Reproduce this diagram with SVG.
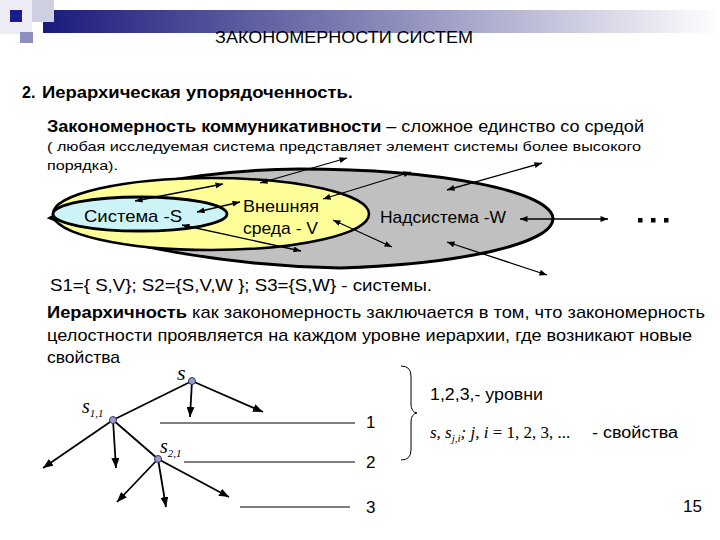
<svg xmlns="http://www.w3.org/2000/svg" width="720" height="540" viewBox="0 0 720 540">
<defs>
<linearGradient id="bar" x1="0" y1="0" x2="1" y2="0">
<stop offset="0" stop-color="#1a1a7c"/>
<stop offset="0.45" stop-color="#7d7db2"/>
<stop offset="1" stop-color="#ffffff"/>
</linearGradient>
<marker id="ah" viewBox="0 0 10 8" refX="10" refY="4" markerWidth="8" markerHeight="6" markerUnits="userSpaceOnUse" orient="auto-start-reverse">
<path d="M0,0 L10,4 L0,8 z" fill="#000"/>
</marker>
<marker id="th" viewBox="0 0 10 8" refX="10" refY="4" markerWidth="10" markerHeight="8" markerUnits="userSpaceOnUse" orient="auto">
<path d="M0,0 L10,4 L0,8 z" fill="#000"/>
</marker>
<style>
.t{font-family:"Liberation Sans",Arial,sans-serif;fill:#000}
.m{font-family:"Liberation Serif","Times New Roman",serif;font-style:italic;fill:#000}
.b{font-weight:bold}
.dbl{stroke:#000;stroke-width:1.3;fill:none;marker-start:url(#ah);marker-end:url(#ah)}
.edge{stroke:#000;stroke-width:1.8;fill:none}
.arr{stroke:#000;stroke-width:1.8;fill:none;marker-end:url(#th)}
.lvl{stroke:#000;stroke-width:1.2}
.node{fill:#9a9acc;stroke:#333366;stroke-width:1}
</style>
</defs>
<rect width="720" height="540" fill="#fff"/>
<g id="header">
<rect x="0" y="0" width="32" height="34" fill="#ececf4"/>
<rect x="43" y="10" width="677" height="23" fill="url(#bar)"/>
<rect x="32" y="0" width="22" height="22" fill="#cfcfe2"/>
<rect x="10" y="10" width="12" height="12" fill="#1a1a8c"/>
<rect x="20" y="32" width="13" height="11" fill="#8f8fbf"/>
<text class="t" x="215" y="43" font-size="17" textLength="258" lengthAdjust="spacingAndGlyphs">ЗАКОНОМЕРНОСТИ СИСТЕМ</text>
</g>
<g id="intro">
<text class="t b" x="22" y="98" font-size="16">2.</text>
<text class="t b" x="42" y="98" font-size="16" textLength="311" lengthAdjust="spacingAndGlyphs">Иерархическая упорядоченность.</text>
<text class="t" x="47" y="132" font-size="17" textLength="597" lengthAdjust="spacingAndGlyphs"><tspan class="b">Закономерность коммуникативности</tspan> – сложное единство со средой</text>
<text class="t" x="47" y="151" font-size="13.5" textLength="594" lengthAdjust="spacingAndGlyphs">( любая исследуемая система  представляет элемент системы более высокого</text>
<text class="t" x="47" y="170" font-size="13.5" textLength="71" lengthAdjust="spacingAndGlyphs">порядка).</text>
</g>
<g id="node-W">
<path d="M50,218 C90,195 180,170 300,169 A253,50 0 0 1 553,219 A253,50 0 0 1 340,268 C230,266 110,245 50,218 Z" fill="#c0c0c0" stroke="#000" stroke-width="3"/>
<text class="t" x="380" y="223" font-size="17" textLength="126" lengthAdjust="spacingAndGlyphs">Надсистема -W</text>
</g>
<g id="node-V">
<ellipse cx="211" cy="214" rx="158" ry="36" fill="#ffff99" stroke="#000" stroke-width="2.5"/>
<text class="t" x="243" y="212" font-size="17" textLength="76" lengthAdjust="spacingAndGlyphs">Внешняя</text>
<text class="t" x="243" y="234" font-size="17" textLength="75" lengthAdjust="spacingAndGlyphs">среда - V</text>
</g>
<g id="node-S">
<ellipse cx="140" cy="214" rx="87" ry="17" fill="#ccf4f6" stroke="#000" stroke-width="2.8"/>
<text class="t" x="84" y="222" font-size="17" textLength="98" lengthAdjust="spacingAndGlyphs">Система -S</text>
</g>
<g id="ellipsis">
<rect x="638" y="218" width="4.5" height="4.5" fill="#000"/>
<rect x="651" y="218" width="4.5" height="4.5" fill="#000"/>
<rect x="664" y="218" width="4.5" height="4.5" fill="#000"/>
</g>
<g id="connectors">
<line class="dbl" x1="135" y1="201" x2="223" y2="184"/>
<line class="dbl" x1="260" y1="183" x2="347" y2="158"/>
<line class="dbl" x1="197" y1="212" x2="240" y2="202"/>
<line class="dbl" x1="182" y1="225" x2="301" y2="251"/>
<line class="dbl" x1="333" y1="220" x2="392" y2="247"/>
<line class="dbl" x1="323" y1="199" x2="411" y2="172"/>
<line class="dbl" x1="447" y1="190" x2="542" y2="163"/>
<line class="dbl" x1="520" y1="219" x2="608" y2="219"/>
<line class="dbl" x1="447" y1="242" x2="547" y2="275"/>
</g>
<g id="systems">
<text class="t" x="50" y="291" font-size="17" textLength="382" lengthAdjust="spacingAndGlyphs">S1={ S,V};  S2={S,V,W };  S3={S,W}  - системы.</text>
</g>
<g id="hierarchy-text">
<text class="t" x="47" y="318" font-size="17" textLength="658" lengthAdjust="spacingAndGlyphs"><tspan class="b">Иерархичность</tspan> как закономерность  заключается в том, что закономерность</text>
<text class="t" x="47" y="341" font-size="17" textLength="645" lengthAdjust="spacingAndGlyphs">целостности проявляется на каждом уровне иерархии, где возникают новые</text>
<text class="t" x="47" y="363" font-size="17" textLength="73" lengthAdjust="spacingAndGlyphs">свойства</text>
</g>
<g id="tree-edges">
<line class="edge" x1="192" y1="381" x2="113" y2="420"/>
<line class="edge" x1="113" y1="420" x2="158" y2="459"/>
<line class="arr" x1="192" y1="381" x2="190" y2="417"/>
<line class="arr" x1="192" y1="381" x2="263" y2="412"/>
<line class="arr" x1="113" y1="420" x2="43" y2="468"/>
<line class="arr" x1="113" y1="420" x2="116" y2="468"/>
<line class="arr" x1="158" y1="459" x2="117" y2="502"/>
<line class="arr" x1="158" y1="459" x2="166" y2="507"/>
<line class="arr" x1="158" y1="459" x2="229" y2="497"/>
</g>
<g id="tree-node-s">
<circle class="node" cx="192" cy="381" r="3.5"/>
<text class="m" x="177" y="380" font-size="22">s</text>
</g>
<g id="tree-node-s11">
<circle class="node" cx="113" cy="420" r="3.5"/>
<text class="m" x="82" y="413" font-size="20">s<tspan font-size="11" dy="4">1,1</tspan></text>
</g>
<g id="tree-node-s21">
<circle class="node" cx="158" cy="459" r="3.5"/>
<text class="m" x="160" y="453" font-size="20">s<tspan font-size="11" dy="4">2,1</tspan></text>
</g>
<g id="levels">
<line class="lvl" x1="160" y1="423" x2="355" y2="423"/>
<line class="lvl" x1="184" y1="462" x2="355" y2="462"/>
<line class="lvl" x1="240" y1="507" x2="350" y2="507"/>
<text class="t" x="366" y="428" font-size="17">1</text>
<text class="t" x="366" y="468" font-size="17">2</text>
<text class="t" x="366" y="513" font-size="17">3</text>
</g>
<g id="legend">
<path d="M401,366 Q411,366 411,376 L411,404 Q411,412 417,413 Q411,414 411,422 L411,450 Q411,460 401,460" fill="none" stroke="#000" stroke-width="1"/>
<text class="t" x="430" y="400" font-size="16" textLength="113" lengthAdjust="spacingAndGlyphs">1,2,3,- уровни</text>
<text class="m" x="430" y="438" font-size="17">s, s<tspan font-size="11" dy="4">j,i</tspan><tspan dy="-4">; j, i </tspan><tspan font-style="normal">= 1, 2, 3, ...</tspan></text>
<text class="t" x="592" y="438" font-size="16" textLength="86" lengthAdjust="spacingAndGlyphs">- свойства</text>
<text class="t" x="683" y="512" font-size="17">15</text>
</g>
</svg>
